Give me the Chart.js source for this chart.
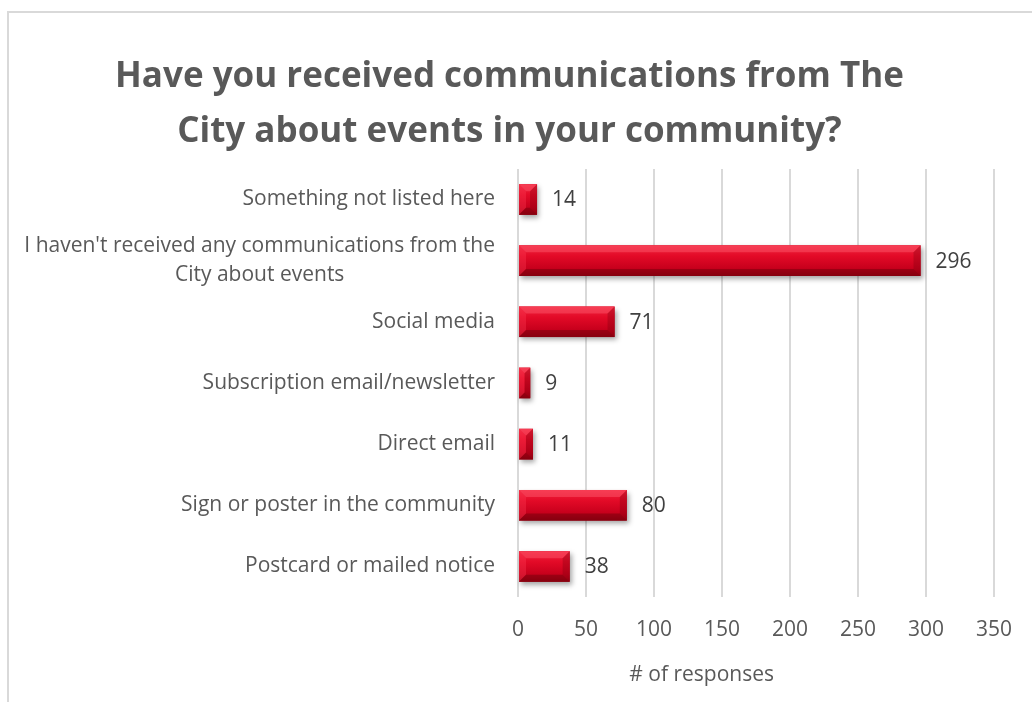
<!DOCTYPE html>
<html>
<head>
<meta charset="utf-8">
<script src="https://cdn.jsdelivr.net/npm/chart.js@4/dist/chart.umd.min.js"></script>
<style>
  html, body { margin: 0; padding: 0; background: #fff; }
  #wrap { position: relative; width: 1032px; height: 702px; }
  #frame { position: absolute; left: 7px; top: 11px; right: -2px; bottom: -2px;
           border-left: 2px solid #d9d9d9; border-top: 2px solid #d9d9d9; }
  canvas { position: absolute; left: 0; top: 0; }
</style>
</head>
<body>
<div id="wrap">
  <div id="frame"></div>
  <canvas id="chart" width="1032" height="702"></canvas>
</div>
<script>
// chart data, top to bottom as shown
const categories = [
  'Something not listed here',
  ["I haven't received any communications from the", 'City about events'],
  'Social media',
  'Subscription email/newsletter',
  'Direct email',
  'Sign or poster in the community',
  'Postcard or mailed notice'
];
const responses = [14, 296, 71, 9, 11, 80, 38];
const titleLines = ['Have you received communications from The', 'City about events in your community?'];
const axisTitle = '# of responses';

const FONT = '"Open Sans", Lato, sans-serif';
const labelFont = { family: FONT, size: 21 };

// draws the y category labels (multi-line ones centered on themselves)
// and the x axis title, which sits left of the plot centre in the original
const textLabels = {
  id: 'textLabels',
  afterDraw(chart) {
    const ctx = chart.ctx;
    const ys = chart.scales.y;
    const xs = chart.scales.x;
    ctx.save();
    ctx.font = '21px ' + FONT;
    ctx.fillStyle = '#595959';
    ctx.textAlign = 'center';
    ctx.textBaseline = 'middle';
    const right = chart.chartArea.left - 23;
    const lh = 29;
    ys.ticks.forEach((t, i) => {
      const lbl = categories[i];
      const lines = Array.isArray(lbl) ? lbl : [lbl];
      const w = Math.max(...lines.map(l => ctx.measureText(l).width));
      const cy = ys.getPixelForTick(i);
      lines.forEach((l, j) => {
        ctx.fillText(l, right - w / 2, cy + (j - (lines.length - 1) / 2) * lh);
      });
    });
    ctx.fillText(axisTitle, xs.getPixelForValue(135), xs.bottom - 27);
    ctx.restore();
  }
};

// bevelled red bars plus value labels
const bevelBars = {
  id: 'bevelBars',
  afterDatasetsDraw(chart) {
    const ctx = chart.ctx;
    const meta = chart.getDatasetMeta(0);
    meta.data.forEach((bar, i) => {
      const p = bar.getProps(['x', 'y', 'base', 'height'], true);
      const l = p.base, r = p.x, t = p.y - p.height / 2, b = p.y + p.height / 2;
      const w = r - l, h = b - t;
      const bv = Math.min(7, h / 4, w / 2);

      ctx.save();
      ctx.shadowColor = 'rgba(0,0,0,0.35)';
      ctx.shadowBlur = 5;
      ctx.shadowOffsetX = 2;
      ctx.shadowOffsetY = 3;
      const g = ctx.createLinearGradient(0, t, 0, b);
      g.addColorStop(0, '#f0263f');
      g.addColorStop(0.35, '#e30a27');
      g.addColorStop(0.75, '#c7001c');
      g.addColorStop(1, '#9a0012');
      ctx.fillStyle = g;
      ctx.fillRect(l, t, w, h);
      ctx.restore();

      ctx.save();
      // top bevel
      ctx.fillStyle = 'rgba(255,90,110,0.45)';
      ctx.beginPath();
      ctx.moveTo(l, t); ctx.lineTo(r, t); ctx.lineTo(r - bv, t + bv); ctx.lineTo(l + bv, t + bv);
      ctx.closePath(); ctx.fill();
      // left bevel
      ctx.fillStyle = 'rgba(255,60,85,0.35)';
      ctx.beginPath();
      ctx.moveTo(l, t); ctx.lineTo(l + bv, t + bv); ctx.lineTo(l + bv, b - bv); ctx.lineTo(l, b);
      ctx.closePath(); ctx.fill();
      // bottom bevel
      ctx.fillStyle = 'rgba(110,0,10,0.45)';
      ctx.beginPath();
      ctx.moveTo(l, b); ctx.lineTo(r, b); ctx.lineTo(r - bv, b - bv); ctx.lineTo(l + bv, b - bv);
      ctx.closePath(); ctx.fill();
      // right bevel
      ctx.fillStyle = 'rgba(120,0,12,0.3)';
      ctx.beginPath();
      ctx.moveTo(r, t); ctx.lineTo(r - bv, t + bv); ctx.lineTo(r - bv, b - bv); ctx.lineTo(r, b);
      ctx.closePath(); ctx.fill();
      ctx.restore();

      // value label
      ctx.save();
      ctx.font = '21px ' + FONT;
      ctx.fillStyle = '#404040';
      ctx.textAlign = 'left';
      ctx.textBaseline = 'middle';
      ctx.fillText(String(responses[i]), r + 15, p.y + 1);
      ctx.restore();
    });
  }
};

new Chart(document.getElementById('chart'), {
  type: 'bar',
  data: {
    labels: categories,
    datasets: [{
      data: responses,
      backgroundColor: '#d40a23',
      borderWidth: 0,
      barPercentage: 0.5,
      categoryPercentage: 1.0
    }]
  },
  options: {
    indexAxis: 'y',
    responsive: false,
    animation: false,
    layout: { padding: { left: 18, right: 31, top: 22, bottom: 0 } },
    plugins: {
      legend: { display: false },
      tooltip: { enabled: false },
      title: {
        display: true,
        text: titleLines,
        color: '#595959',
        font: { family: FONT, size: 35, weight: 'bold', lineHeight: 1.57 },
        padding: { top: 28, bottom: 9 }
      }
    },
    scales: {
      x: {
        min: 0,
        max: 350,
        ticks: { stepSize: 50, color: '#595959', font: labelFont, padding: 20 },
        grid: { color: '#d9d9d9', lineWidth: 2, drawTicks: false },
        border: { display: false },
        afterFit(scale) { scale.height = 105; }
      },
      y: {
        ticks: { color: 'rgba(0,0,0,0)', font: labelFont },
        grid: { display: false },
        border: { display: false },
        afterFit(scale) { scale.width = 500; }
      }
    }
  },
  plugins: [bevelBars, textLabels]
});
</script>
</body>
</html>
